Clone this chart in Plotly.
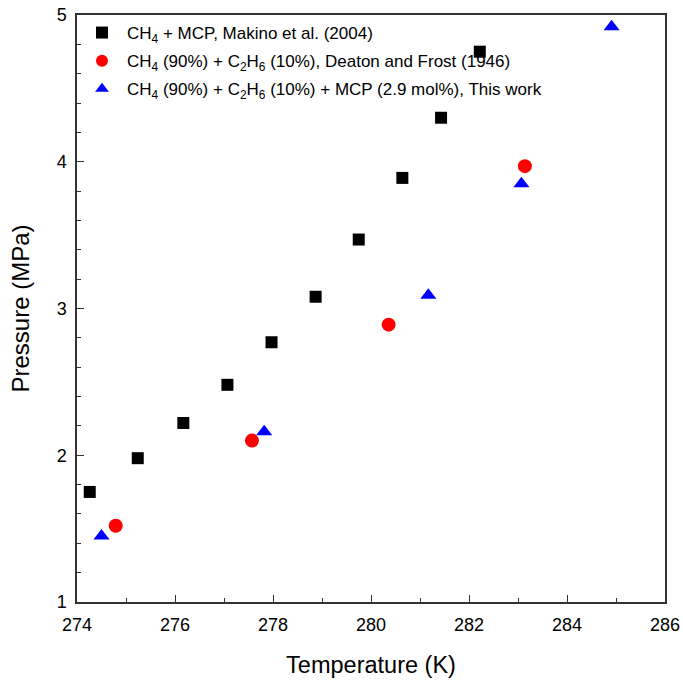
import plotly.graph_objects as go

# Data
t_makino = [274.26, 275.24, 276.17, 277.07, 277.97, 278.87, 279.75, 280.64, 281.43, 282.22]
p_makino = [1.75, 1.98, 2.22, 2.48, 2.77, 3.08, 3.47, 3.89, 4.30, 4.75]

t_deaton = [274.79, 277.57, 280.36, 283.14]
p_deaton = [1.52, 2.10, 2.89, 3.97]

t_this = [274.50, 277.82, 281.17, 283.07, 284.91]
p_this = [1.45, 2.16, 3.09, 3.85, 4.92]

names = [
    "CH<sub>4</sub> + MCP, Makino et al. (2004)",
    "CH<sub>4</sub> (90%) + C<sub>2</sub>H<sub>6</sub> (10%), Deaton and Frost (1946)",
    "CH<sub>4</sub> (90%) + C<sub>2</sub>H<sub>6</sub> (10%) + MCP (2.9 mol%), This work",
]

fig = go.Figure()
fig.add_trace(go.Scatter(x=t_makino, y=p_makino, mode="markers", name=names[0], legendgroup="g1",
                         marker=dict(symbol="square", size=12, color="black")))
fig.add_trace(go.Scatter(x=t_deaton, y=p_deaton, mode="markers", name=names[1], legendgroup="g2",
                         marker=dict(symbol="circle", size=14, color="red")))
fig.add_trace(go.Scatter(x=t_this, y=p_this, mode="markers", name=names[2], legendgroup="g3",
                         marker=dict(symbol="triangle-up", size=14, color="blue")))

font_family = "Liberation Sans, Arial, sans-serif"
axis_common = dict(
    showline=True, linecolor="#333333", linewidth=1.5, mirror=True,
    ticks="inside", ticklen=7, tickwidth=1, tickcolor="#333333",
    showgrid=False, zeroline=False, automargin=False,
    ticklabeloverflow="allow",
    tickfont=dict(family=font_family, size=18, color="black"),
)

fig.update_layout(
    width=683, height=681,
    margin=dict(l=77, r=18, t=15, b=79),
    plot_bgcolor="white", paper_bgcolor="white",
    font=dict(family=font_family, color="black"),
    xaxis=dict(range=[274, 286], dtick=2, ticklabelstandoff=6,
               minor=dict(dtick=1, ticks="inside", ticklen=4, tickcolor="#333333"),
               title=dict(text="Temperature (K)", font=dict(size=23.5), standoff=22),
               **axis_common),
    yaxis=dict(range=[1, 5], dtick=1, ticklabelstandoff=5,
               minor=dict(dtick=0.2, ticks="inside", ticklen=4, tickcolor="#333333"),
               title=dict(text="Pressure (MPa)", font=dict(size=24), standoff=20),
               **axis_common),
    legend=dict(x=0.0, y=1.0, xanchor="left", yanchor="top",
                bgcolor="rgba(0,0,0,0)", borderwidth=0,
                font=dict(family=font_family, size=17, color="black"),
                tracegroupgap=3, itemwidth=40, itemsizing="constant"),
)

fig.write_html("out.html")
